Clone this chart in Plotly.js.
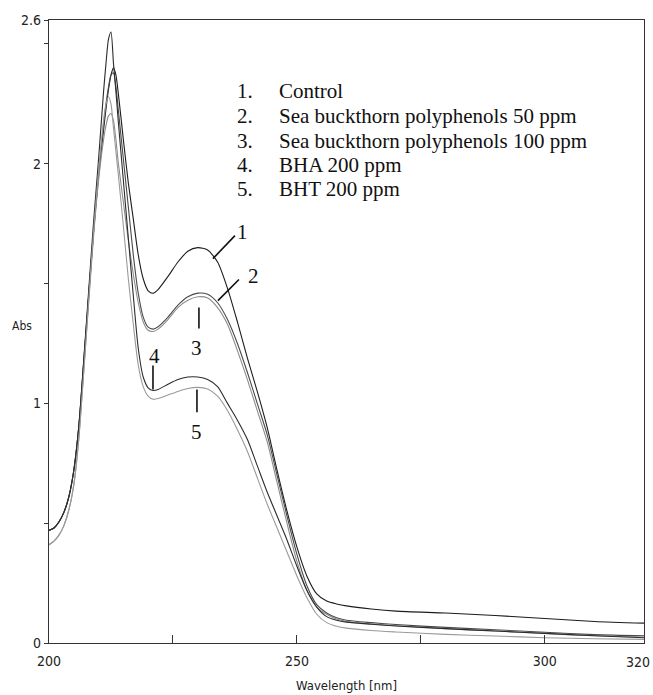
<!DOCTYPE html>
<html>
<head>
<meta charset="utf-8">
<script src="https://cdn.plot.ly/plotly-3.0.1.min.js"></script>
<style>
  html, body { margin: 0; padding: 0; background: #ffffff; }
  #chart { width: 653px; height: 695px; }
</style>
</head>
<body>
<div id="chart"></div>
<script>
// Wavelength grid (nm)
const wavelength = [200,201,202,203,204,205,206,207,208,209,210,211,
  211.5,212,212.5,213,213.5,214,
  215,216,217,218,219,220,221,222,
  224,226,228,230,232,234,236,238,240,242,
  244,246,248,250,252,254,256,258,260,
  265,270,280,290,300,310,320];

// Absorbance readings for each sample
const control = [0.47,0.48,0.505,0.545,0.61,0.72,0.90,1.17,1.45,1.72,1.95,2.14,
  2.23,2.31,2.37,2.40,2.37,2.29,
  2.10,1.92,1.77,1.62,1.52,1.47,1.46,1.475,
  1.53,1.59,1.635,1.65,1.64,1.59,1.48,1.34,1.19,1.05,
  0.90,0.72,0.55,0.40,0.28,0.205,0.175,0.163,0.155,
  0.142,0.133,0.125,0.115,0.102,0.09,0.083];

const sbp50 = [0.47,0.48,0.505,0.545,0.61,0.72,0.90,1.17,1.45,1.72,1.96,2.16,
  2.25,2.32,2.37,2.38,2.32,2.22,
  2.02,1.82,1.62,1.46,1.36,1.318,1.31,1.32,
  1.36,1.41,1.445,1.46,1.455,1.42,1.35,1.25,1.13,1.0,
  0.87,0.70,0.53,0.37,0.24,0.16,0.125,0.105,0.095,
  0.085,0.077,0.065,0.055,0.045,0.035,0.03];

const sbp100 = [0.41,0.425,0.45,0.49,0.555,0.66,0.85,1.13,1.42,1.70,1.93,2.10,
  2.16,2.20,2.21,2.18,2.10,2.0,
  1.84,1.68,1.54,1.42,1.34,1.305,1.30,1.31,
  1.35,1.40,1.43,1.445,1.44,1.40,1.33,1.22,1.10,0.97,
  0.84,0.67,0.50,0.34,0.22,0.15,0.12,0.10,0.09,
  0.08,0.072,0.06,0.05,0.04,0.03,0.025];

const bha200 = [0.47,0.48,0.505,0.545,0.61,0.72,0.90,1.18,1.47,1.76,2.02,2.30,
  2.42,2.52,2.55,2.42,2.30,2.17,
  1.93,1.69,1.45,1.23,1.11,1.065,1.054,1.058,
  1.08,1.10,1.11,1.11,1.10,1.07,1.0,0.93,0.85,0.74,
  0.63,0.53,0.43,0.32,0.22,0.15,0.11,0.095,0.087,
  0.078,0.071,0.06,0.05,0.04,0.03,0.022];

const bht200 = [0.41,0.425,0.45,0.49,0.555,0.66,0.85,1.13,1.43,1.72,1.97,2.18,
  2.25,2.28,2.25,2.15,2.05,1.95,
  1.74,1.52,1.33,1.16,1.07,1.03,1.017,1.02,
  1.035,1.05,1.062,1.067,1.06,1.03,0.97,0.89,0.80,0.69,
  0.58,0.48,0.38,0.28,0.19,0.12,0.085,0.07,0.062,
  0.052,0.046,0.036,0.029,0.022,0.018,0.015];

const seriesNames = ["Control", "Sea buckthorn polyphenols 50 ppm",
  "Sea buckthorn polyphenols 100 ppm", "BHA 200 ppm", "BHT 200 ppm"];
const seriesNumbers = ["1.", "2.", "3.", "4.", "5."];
const curveLabels = ["1", "2", "3", "4", "5"];

const xTickVals = [200, 225, 250, 275, 300, 320];
const xTickText = ["200", "", "250", "", "300", ""];
const lastXTickText = "320";
const yTickVals = [0, 0.5, 1, 1.5, 2, 2.5, 2.6];
const yTickText = ["0", "", "1", "", "2", "", "2.6"];

const allSeries = [control, sbp50, sbp100, bha200, bht200];
const colors = ["#1c1c1c", "#4a4a4a", "#8c8c8c", "#2c2c2c", "#9a9a9a"];

const traces = allSeries.map((vals, i) => ({
  type: "scatter",
  mode: "lines",
  x: wavelength,
  y: vals,
  name: seriesNames[i],
  line: { color: colors[i], width: 1.1, shape: "spline", smoothing: 0.7 },
  hoverinfo: "x+y+name"
}));

const serif = "Liberation Serif, Times New Roman, serif";
const narrow = "DejaVu Sans Condensed, Liberation Sans Narrow, Arial Narrow, sans-serif";

// Legend-like text block (positions in data units)
const annotations = [];
const legendY = [2.304, 2.2, 2.096, 1.996, 1.896];
seriesNames.forEach((n, i) => {
  annotations.push({ x: 237.6, y: legendY[i], xref: "x", yref: "y", text: seriesNumbers[i],
    showarrow: false, xanchor: "left", yanchor: "middle", font: { family: serif, size: 21, color: "#111" } });
  annotations.push({ x: 246.0, y: legendY[i], xref: "x", yref: "y", text: n,
    showarrow: false, xanchor: "left", yanchor: "middle", font: { family: serif, size: 21, color: "#111" } });
});

// Curve number labels
const labelPos = [[239.0, 1.715], [241.2, 1.531], [229.84, 1.233], [221.37, 1.196], [229.84, 0.879]];
curveLabels.forEach((t, i) => {
  annotations.push({ x: labelPos[i][0], y: labelPos[i][1], xref: "x", yref: "y", text: t,
    showarrow: false, xanchor: "center", yanchor: "middle", font: { family: serif, size: 21, color: "#111" } });
});

annotations.push({ x: -0.045, y: 1.325, xref: "paper", yref: "y", text: "Abs", showarrow: false,
  xanchor: "center", yanchor: "middle", font: { family: narrow, size: 12, color: "#222" } });
annotations.push({ x: 0.5, y: -0.069, xref: "paper", yref: "paper", text: "Wavelength [nm]", showarrow: false,
  xanchor: "center", yanchor: "middle", font: { family: narrow, size: 13, color: "#222" } });
// last x tick label, kept inside the page edge
annotations.push({ x: 1, y: -0.0305, xref: "paper", yref: "paper", text: lastXTickText, showarrow: false,
  xanchor: "right", yanchor: "middle", xshift: 8, font: { family: narrow, size: 14, color: "#222" } });

// Leader lines for curve labels
const leaders = [
  [233.06, 1.604, 237.5, 1.700],
  [234.07, 1.429, 238.31, 1.517],
  [230.24, 1.40, 230.24, 1.3125],
  [220.97, 1.158, 220.97, 1.058],
  [229.84, 1.058, 229.84, 0.9625]
];
const shapes = leaders.map(l => ({ type: "line", xref: "x", yref: "y",
  x0: l[0], y0: l[1], x1: l[2], y1: l[3], line: { color: "#111", width: 1.6 } }));

const layout = {
  width: 653, height: 695,
  margin: { l: 49, r: 9, t: 20, b: 52 },
  paper_bgcolor: "#ffffff",
  plot_bgcolor: "#ffffff",
  showlegend: false,
  xaxis: {
    range: [200, 320],
    tickvals: xTickVals, ticktext: xTickText,
    ticks: "inside", ticklen: 8, tickcolor: "#333", tickwidth: 1,
    showline: true, linecolor: "#333", linewidth: 1.2, mirror: true,
    showgrid: false, zeroline: false,
    ticklabelstandoff: 5,
    tickfont: { family: narrow, size: 14, color: "#222" }
  },
  yaxis: {
    range: [0, 2.6],
    tickvals: yTickVals, ticktext: yTickText,
    ticks: "outside", ticklen: 4, tickcolor: "#333", tickwidth: 1,
    showline: true, linecolor: "#333", linewidth: 1.2, mirror: true,
    showgrid: false, zeroline: false,
    tickfont: { family: narrow, size: 14, color: "#222" }
  },
  annotations: annotations,
  shapes: shapes
};

Plotly.newPlot("chart", traces, layout, { displayModeBar: false, staticPlot: true });
</script>
</body>
</html>
